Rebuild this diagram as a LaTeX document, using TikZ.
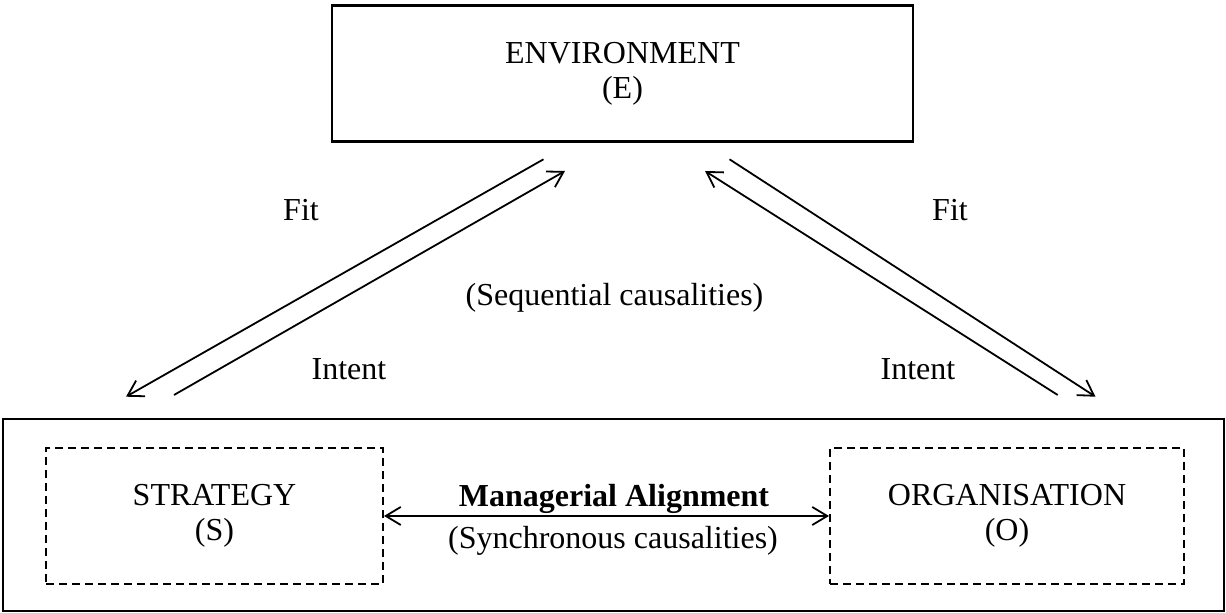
\documentclass[tikz,border=0pt]{standalone}
\usepackage{fontspec}
\setmainfont{Liberation Serif}
\usetikzlibrary{arrows.meta}

\begin{document}
\begin{tikzpicture}
	 [scale =1]
	 \tikzset{>={Straight Barb[length=7.5pt,width=9pt]}, every node/.style={font=\fontsize{16}{17.5}\selectfont}}
	\tikzstyle{block}=[rectangle,draw=black,line width=1.2pt,align=center]
	\tikzstyle{subblock}=[rectangle,draw=black,line width=1pt,dash pattern=on 4pt off 2.5pt,align=center,minimum height=68pt]
	\tikzstyle{link}=[line width=0.9pt]
	\tikzstyle{caption}=[anchor=base,inner sep=0pt]
	\useasboundingbox (0 pt,0 pt) rectangle (613 pt,-306.5 pt);
	\node [block,minimum width=290.5pt,minimum height=68pt] (env) at (311.25 pt,-36.85 pt) {ENVIRONMENT\\(E)};
	\node [block,minimum width=610.5pt,minimum height=96pt] (frame) at (306.75 pt,-257.5 pt) {};
	\node [subblock,minimum width=168.5pt] (strat) at (107.25 pt,-258.0 pt) {STRATEGY\\(S)};
	\node [subblock,minimum width=177.0pt] (org) at (503.5 pt,-258.0 pt) {ORGANISATION\\(O)};
	\draw[link,<->] (strat.east) -- (org.west);
	\node [caption] (align) at (307.0 pt,-253.35 pt) {\textbf{Managerial Alignment}};
	\node [caption] (sync) at (306.5 pt,-274.5 pt) {(Synchronous causalities)};
	\node [caption] (seq) at (307.25 pt,-153.0 pt) {(Sequential causalities)};
	% left pair, between S and E
	\coordinate (fitSa) at (271.75 pt,-79.65 pt);
	\coordinate (fitSb) at (63.0 pt,-198.35 pt);
	\coordinate (intSa) at (87.0 pt,-197.5 pt);
	\coordinate (intSb) at (282.5 pt,-85.5 pt);
	\draw[link,->] (fitSa) -- (fitSb);
	\draw[link,->] (intSa) -- (intSb);
	\node [caption] (fitS) at (150.5 pt,-110.35 pt) {Fit};
	\node [caption] (intS) at (174.5 pt,-189.75 pt) {Intent};
	% right pair, between O and E
	\coordinate (fitOa) at (364.75 pt,-79.65 pt);
	\coordinate (fitOb) at (547.75 pt,-198.35 pt);
	\coordinate (intOa) at (528.85 pt,-197.5 pt);
	\coordinate (intOb) at (352.5 pt,-85.5 pt);
	\draw[link,->] (fitOa) -- (fitOb);
	\draw[link,->] (intOa) -- (intOb);
	\node [caption] (fitO) at (475.0 pt,-110.35 pt) {Fit};
	\node [caption] (intO) at (459.0 pt,-189.75 pt) {Intent};
	\end{tikzpicture}
\end{document}
